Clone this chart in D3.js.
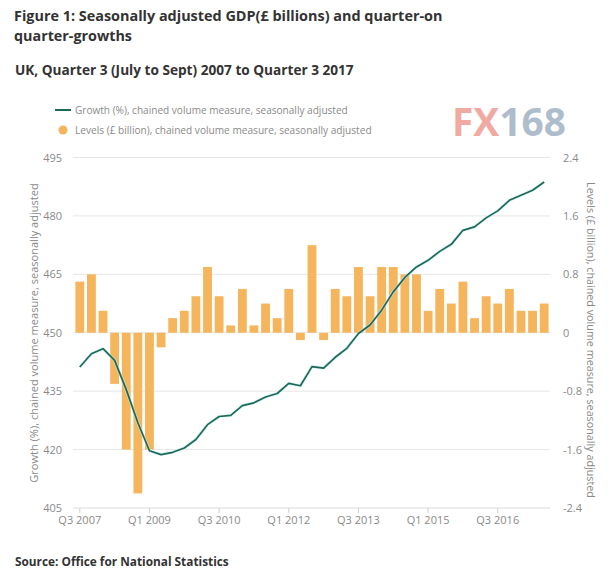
<!DOCTYPE html>
<html><head><meta charset="utf-8">
<script src="https://cdn.jsdelivr.net/npm/d3@7"></script>
<style>
html,body{margin:0;padding:0;background:#fff;}
svg{display:block;font-family:"Open Sans",sans-serif;}
</style></head>
<body><svg id="c" width="610" height="577"></svg>
<script>
const quarters = ["Q3 2007","Q4 2007","Q1 2008","Q2 2008","Q3 2008","Q4 2008","Q1 2009","Q2 2009","Q3 2009","Q4 2009",
"Q1 2010","Q2 2010","Q3 2010","Q4 2010","Q1 2011","Q2 2011","Q3 2011","Q4 2011","Q1 2012","Q2 2012",
"Q3 2012","Q4 2012","Q1 2013","Q2 2013","Q3 2013","Q4 2013","Q1 2014","Q2 2014","Q3 2014","Q4 2014",
"Q1 2015","Q2 2015","Q3 2015","Q4 2015","Q1 2016","Q2 2016","Q3 2016","Q4 2016","Q1 2017","Q2 2017","Q3 2017"];
const growthBars = [0.7,0.8,0.3,-0.7,-1.6,-2.2,-1.6,-0.2,0.2,0.3,0.5,0.9,0.5,0.1,0.6,0.1,0.4,0.2,0.6,-0.1,
1.2,-0.1,0.6,0.5,0.9,0.5,0.9,0.9,0.8,0.8,0.3,0.6,0.4,0.7,0.2,0.5,0.4,0.6,0.3,0.3,0.4];
const levelsLine = [441.2,444.6,445.9,442.9,435.4,426.9,419.7,418.7,419.3,420.4,422.6,426.4,428.5,428.8,431.3,432.0,433.5,434.4,437.0,436.4,
441.3,440.9,443.7,446.0,449.8,452.0,455.8,460.5,464.2,466.9,468.6,470.9,472.7,476.3,477.2,479.5,481.3,484.0,485.3,486.6,488.7];
const xTickLabels = ["Q3 2007","Q1 2009","Q3 2010","Q1 2012","Q3 2013","Q1 2015","Q3 2016"];
const leftTicks = [405,420,435,450,465,480,495];
const rightTicks = [-2.4,-1.6,-0.8,0,0.8,1.6,2.4];
const rightTickLabels = ["-2.4","-1.6","-0.8","0","0.8","1.6","2.4"];

const svg = d3.select("#c");
const L = 74, R = 550, T = 157.5, B = 508;
const barColor = "#f5b55c", lineColor = "#1f6857", grey = "#8a8a8a";

function fit(sel, w){ const n = sel.node(); const cur = n.getComputedTextLength(); const fs = parseFloat(sel.attr("font-size")); sel.attr("font-size", fs*w/cur); return sel; }

// titles
fit(svg.append("text").attr("x",14).attr("y",21).attr("font-size",16).attr("font-weight",700).attr("fill","#333")
  .text("Figure 1: Seasonally adjusted GDP(£ billions) and quarter-on"), 429);
fit(svg.append("text").attr("x",14).attr("y",41).attr("font-size",16).attr("font-weight",700).attr("fill","#333")
  .text("quarter-growths"), 118);
fit(svg.append("text").attr("x",15).attr("y",75).attr("font-size",14).attr("font-weight",700).attr("fill","#333")
  .text("UK, Quarter 3 (July to Sept) 2007 to Quarter 3 2017"), 339);

// legend
svg.append("line").attr("x1",55).attr("x2",71).attr("y1",110).attr("y2",110).attr("stroke",lineColor).attr("stroke-width",2);
fit(svg.append("text").attr("x",75).attr("y",110).attr("dy","0.35em").attr("font-size",11).attr("fill",grey)
  .text("Growth (%), chained volume measure, seasonally adjusted"), 273);
svg.append("circle").attr("cx",63).attr("cy",130).attr("r",4.5).attr("fill",barColor);
fit(svg.append("text").attr("x",75).attr("y",130).attr("dy","0.35em").attr("font-size",11).attr("fill",grey)
  .text("Levels (£ billion), chained volume measure, seasonally adjusted"), 297);

// watermark
const wm = svg.append("text").attr("x",452).attr("y",136).attr("font-size",30).attr("font-weight",700).attr("font-family","Open Sans");
wm.append("tspan").attr("fill","#f0aaa2").text("FX");
wm.append("tspan").attr("fill","#aebdcc").text("168");
fit(wm, 114);

// scales
const x = d3.scaleBand().domain(quarters).range([L,R]).paddingInner(0.24).paddingOuter(0.12);
const yL = d3.scaleLinear().domain([405,495]).range([B,T]);
const yR = d3.scaleLinear().domain([-2.4,2.4]).range([B,T]);

// gridlines
svg.append("g").selectAll("line").data(leftTicks).join("line")
  .attr("x1",L-1).attr("x2",R).attr("y1",d=>yL(d)).attr("y2",d=>yL(d))
  .attr("stroke",d=>d===405?"#dcdcdc":"#e6e6e6").attr("stroke-width",1);

// left axis
const la = svg.append("g").attr("transform",`translate(${L-12},0)`)
  .call(d3.axisLeft(yL).tickValues(leftTicks).tickSize(0).tickPadding(0));
la.select(".domain").remove();
la.selectAll("text").attr("font-size",11).attr("fill",grey).attr("font-family","Open Sans");

// right axis
const ra = svg.append("g").attr("transform",`translate(${R+13},0)`)
  .call(d3.axisRight(yR).tickValues(rightTicks).tickFormat((d,i)=>rightTickLabels[i]).tickSize(0).tickPadding(0));
ra.select(".domain").remove();
ra.selectAll("text").attr("font-size",11).attr("fill",grey).attr("font-family","Open Sans");

// bottom axis
const ba = svg.append("g").attr("transform",`translate(0,${B})`)
  .call(d3.axisBottom(x).tickValues(xTickLabels).tickSize(5).tickPadding(3));
ba.select(".domain").remove();
ba.selectAll("line").attr("stroke","#cfcfcf");
ba.selectAll("text").attr("font-size",11).attr("fill",grey).attr("font-family","Open Sans");

// bars
svg.append("g").selectAll("rect").data(growthBars).join("rect")
  .attr("x",(d,i)=>x(quarters[i])).attr("width",x.bandwidth())
  .attr("y",d=>Math.min(yR(d),yR(0))).attr("height",d=>Math.abs(yR(d)-yR(0)))
  .attr("fill",barColor);

// line
const line = d3.line().x((d,i)=>x(quarters[i])+x.bandwidth()/2).y(d=>yL(d));
svg.append("path").datum(levelsLine).attr("d",line).attr("fill","none")
  .attr("stroke","#bff0f0").attr("stroke-width",3.2).attr("stroke-opacity",0.6);
svg.append("path").datum(levelsLine).attr("d",line).attr("fill","none")
  .attr("stroke",lineColor).attr("stroke-width",1.7).attr("stroke-linejoin","round");

// axis titles
fit(svg.append("text").attr("transform","translate(38,333) rotate(-90)").attr("text-anchor","middle")
  .attr("font-size",11).attr("fill",grey).text("Growth (%), chained volume measure, seasonally adjusted"), 300);
fit(svg.append("text").attr("transform","translate(587,340) rotate(90)").attr("text-anchor","middle")
  .attr("font-size",11).attr("fill",grey).text("Levels (£ billion), chained volume measure, seasonally adjusted"), 316);

// source
fit(svg.append("text").attr("x",15).attr("y",566).attr("font-size",13).attr("font-weight",700).attr("fill","#333")
  .text("Source: Office for National Statistics"), 214);
</script></body></html>
